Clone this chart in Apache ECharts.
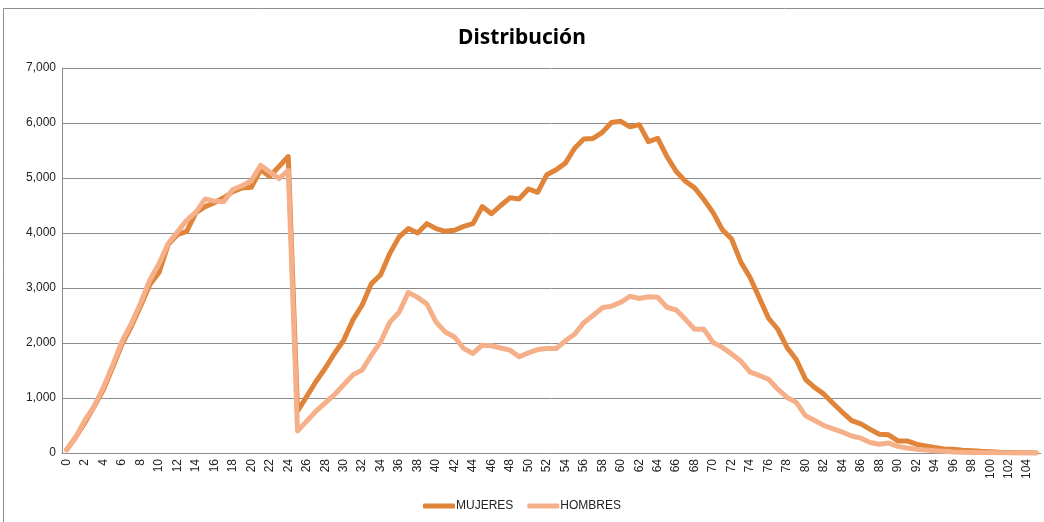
<!DOCTYPE html>
<html>
<head>
<meta charset="utf-8">
<script src="https://cdn.jsdelivr.net/npm/echarts@6/dist/echarts.min.js"></script>
<style>
  html, body { margin: 0; padding: 0; background: #fff; }
  #chart { width: 1044px; height: 522px; }
</style>
</head>
<body>
<div id="chart"></div>
<script>
// edades 0..105
var edades = []
for (var i = 0; i <= 105; i++) edades.push(String(i))

var mujeres = [
  60, 290, 560, 850, 1160, 1560, 1980, 2300, 2670, 3060,
  3280, 3790, 3970, 4030, 4370, 4480, 4550, 4640, 4750, 4820,
  4830, 5150, 5030, 5210, 5390, 760, 1030, 1300, 1540, 1810,
  2050, 2420, 2690, 3080, 3240, 3630, 3930, 4080, 4000, 4170,
  4080, 4030, 4050, 4120, 4170, 4480, 4350, 4500, 4640, 4620,
  4800, 4740, 5060, 5150, 5270, 5540, 5710, 5720, 5830, 6010,
  6030, 5930, 5970, 5660, 5720, 5390, 5120, 4940, 4820, 4610,
  4370, 4060, 3890, 3470, 3190, 2820, 2450, 2250, 1920, 1700,
  1340, 1190, 1070, 900, 740, 590, 530, 430, 340, 330,
  220, 220, 160, 130, 100, 75, 70, 50, 40, 30,
  25, 15, 10, 5, 3, 2
]

var hombres = [
  60, 290, 600, 850, 1200, 1600, 2030, 2350, 2720, 3140,
  3440, 3810, 4020, 4230, 4380, 4620, 4580, 4570, 4790, 4860,
  4950, 5230, 5110, 4990, 5140, 400, 580, 760, 910, 1060,
  1240, 1420, 1510, 1780, 2020, 2380, 2560, 2920, 2830, 2710,
  2380, 2200, 2110, 1900, 1810, 1960, 1950, 1910, 1870, 1750,
  1820, 1880, 1900, 1900, 2040, 2160, 2370, 2500, 2640, 2670,
  2740, 2850, 2810, 2840, 2830, 2650, 2600, 2430, 2250, 2250,
  2010, 1920, 1800, 1670, 1470, 1410, 1340, 1160, 1010, 920,
  680, 590, 500, 440, 380, 310, 270, 190, 160, 180,
  120, 90, 70, 55, 40, 30, 20, 15, 10, 8,
  5, 3, 2, 1, 1, 0
]

var chart = echarts.init(document.getElementById('chart'))

var option = {
  animation: false,
  backgroundColor: '#fff',
  color: ['#df8439', '#f5b08a'],
  title: {
    text: 'Distribución',
    left: 'center',
    top: 23,
    textStyle: { fontFamily: 'Noto Sans', fontSize: 21, fontWeight: 'bold', color: '#000' }
  },
  graphic: [{
    type: 'rect',
    shape: { x: 3.5, y: 8.5, width: 1060, height: 540 },
    style: { fill: 'none', stroke: '#8c8c8c', lineWidth: 1 },
    silent: true
  }],
  legend: {
    bottom: 5,
    left: 'center',
    icon: 'roundRect',
    itemWidth: 32,
    itemHeight: 5,
    itemGap: 14,
    textStyle: { fontFamily: 'Liberation Sans', fontSize: 12, color: '#222', padding: [0, 0, 0, -4] },
    data: ['MUJERES', 'HOMBRES']
  },
  grid: { left: 62, right: 3, top: 68, bottom: 69 },
  xAxis: {
    type: 'category',
    boundaryGap: true,
    data: edades,
    axisLine: { lineStyle: { color: '#8c8c8c' } },
    axisTick: { show: false },
    axisLabel: {
      interval: 1,
      rotate: 90,
      margin: 6,
      fontFamily: 'Liberation Sans',
      fontSize: 12,
      color: '#222'
    }
  },
  yAxis: {
    type: 'value',
    min: 0,
    max: 7000,
    interval: 1000,
    axisLine: { show: true, lineStyle: { color: '#8c8c8c' } },
    axisTick: { show: false },
    splitLine: { lineStyle: { color: '#8c8c8c' } },
    axisLabel: {
      margin: 6,
      fontFamily: 'Liberation Sans',
      fontSize: 12,
      color: '#222',
      formatter: function (v) { return v.toLocaleString('en-US') }
    }
  },
  series: [
    {
      name: 'MUJERES',
      type: 'line',
      data: mujeres,
      showSymbol: false,
      lineStyle: { width: 5, cap: 'round', join: 'round' }
    },
    {
      name: 'HOMBRES',
      type: 'line',
      data: hombres,
      showSymbol: false,
      lineStyle: { width: 5, cap: 'round', join: 'round' }
    }
  ]
}

chart.setOption(option)
</script>
</body>
</html>
